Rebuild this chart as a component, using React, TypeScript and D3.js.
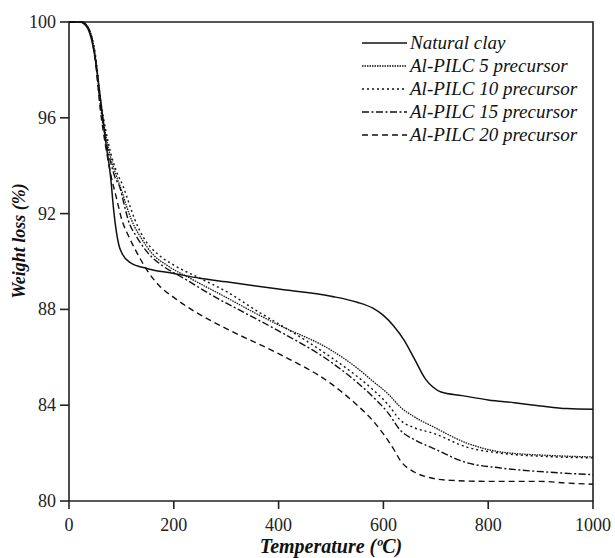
import React from "react";
import * as d3 from "d3";

const xTicks = [0, 200, 400, 600, 800, 1000];
const yTicks = [80, 84, 88, 92, 96, 100];

const seriesNames = [
  "Natural clay",
  "Al-PILC 5 precursor",
  "Al-PILC 10 precursor",
  "Al-PILC 15 precursor",
  "Al-PILC 20 precursor",
];

const naturalClayT = [0, 20, 30, 40, 50, 60, 70, 80, 85, 90, 95, 101, 117, 150, 200, 250, 300, 400, 500, 550, 580, 600, 620, 640, 660, 680, 695, 710, 750, 800, 850, 900, 950, 1000];
const naturalClayW = [100, 100, 99.9, 99.5, 98.5, 96.8, 95.0, 93.4, 92.2, 91.3, 90.7, 90.35, 89.95, 89.7, 89.5, 89.3, 89.15, 88.85, 88.55, 88.3, 88.05, 87.75, 87.3, 86.7, 85.9, 85.1, 84.75, 84.55, 84.4, 84.22, 84.1, 83.97, 83.86, 83.83];

const pilc5T = [0, 25, 40, 50, 60, 70, 80, 90, 100, 110, 120, 140, 158, 190, 231, 300, 355, 400, 500, 550, 580, 610, 632, 660, 695, 759, 823, 918, 1000];
const pilc5W = [100, 100, 99.6, 98.6, 96.7, 95.3, 94.3, 93.6, 93.0, 92.3, 91.7, 90.9, 90.35, 89.8, 89.3, 88.5, 87.85, 87.35, 86.3, 85.55, 85.0, 84.45, 83.93, 83.5, 83.1, 82.42, 82.05, 81.9, 81.84];

const pilc10T = [0, 25, 40, 50, 60, 70, 80, 90, 104, 115, 126, 145, 167, 200, 250, 300, 365, 400, 500, 550, 580, 610, 632, 660, 695, 759, 823, 918, 1000];
const pilc10W = [100, 100, 99.6, 98.7, 96.8, 95.5, 94.5, 93.8, 93.1, 92.4, 91.73, 90.9, 90.35, 89.85, 89.3, 88.75, 87.85, 87.4, 86.0, 85.2, 84.65, 84.0, 83.38, 83.05, 82.83, 82.25, 82.0, 81.85, 81.8];

const pilc15T = [0, 25, 40, 50, 60, 70, 80, 88, 97, 105, 113, 130, 151, 180, 219, 280, 336, 400, 500, 550, 580, 610, 632, 660, 695, 759, 823, 918, 1000];
const pilc15W = [100, 100, 99.6, 98.5, 96.5, 95.1, 94.1, 93.5, 93.1, 92.4, 91.73, 91.0, 90.35, 89.8, 89.3, 88.5, 87.85, 87.1, 85.8, 84.95, 84.35, 83.65, 82.96, 82.55, 82.2, 81.6, 81.38, 81.2, 81.1];

const pilc20T = [0, 25, 40, 50, 60, 70, 80, 90, 101, 115, 130, 150, 174, 200, 237, 300, 400, 500, 550, 580, 600, 620, 632, 660, 690, 730, 800, 900, 950, 1000];
const pilc20W = [100, 100, 99.6, 98.4, 96.3, 94.8, 93.6, 92.7, 91.73, 91.0, 90.35, 89.6, 88.95, 88.5, 87.95, 87.2, 86.15, 84.9, 84.0, 83.35, 82.8, 82.15, 81.7, 81.2, 80.97, 80.86, 80.82, 80.82, 80.75, 80.7];

const dashes = ["none", "1.5,1", "2,3", "7,2.5,2,2.5", "6,4"];
const widths = [1.5, 1.3, 1.4, 1.4, 1.4];

export default function App() {
  const W = 615, H = 558;
  const x = d3.scaleLinear().domain([0, 1000]).range([69, 593]);
  const y = d3.scaleLinear().domain([80, 100]).range([501, 22]);
  const line = d3
    .line<[number, number]>()
    .x((d) => x(d[0]))
    .y((d) => y(d[1]))
    .curve(d3.curveMonotoneX);

  const series: [number[], number[]][] = [
    [naturalClayT, naturalClayW],
    [pilc5T, pilc5W],
    [pilc10T, pilc10W],
    [pilc15T, pilc15W],
    [pilc20T, pilc20W],
  ];

  const font = "'Liberation Serif', 'Times New Roman', serif";

  return (
    <svg
      width={W}
      height={H}
      style={{ position: "absolute", left: 0, top: 0, background: "#fff" }}
      fontFamily={font}
    >
      <rect x={0} y={0} width={W} height={H} fill="#fff" />
      <path
        d={`M${x(0)},${y(100)} H${x(1000)} V${y(80)} H${x(0)} Z`}
        fill="none"
        stroke="#222"
        strokeWidth={1.6}
      />
      {xTicks.map((t) => (
        <g key={"x" + t}>
          <line x1={x(t)} x2={x(t)} y1={y(80)} y2={y(80) + 8} stroke="#222" strokeWidth={1.6} />
          <text x={x(t)} y={531} textAnchor="middle" fontSize={18} fill="#222">
            {t}
          </text>
        </g>
      ))}
      {yTicks.map((t) => (
        <g key={"y" + t}>
          <line x1={x(0) - 9} x2={x(0)} y1={y(t)} y2={y(t)} stroke="#222" strokeWidth={1.6} />
          <text x={56} y={y(t) + 6} textAnchor="end" fontSize={18} fill="#222">
            {t}
          </text>
        </g>
      ))}
      <text
        x={331}
        y={553}
        textAnchor="middle"
        fontSize={20}
        fontWeight="bold"
        fontStyle="italic"
        fill="#111"
      >
        Temperature (ºC)
      </text>
      <text
        transform={`translate(25,${241}) rotate(-90)`}
        textAnchor="middle"
        fontSize={18}
        fontWeight="bold"
        fontStyle="italic"
        fill="#111"
      >
        Weight loss (%)
      </text>
      {series.map(([ts, ws], i) => (
        <path
          key={"s" + i}
          d={line(ts.map((t, j) => [t, ws[j]] as [number, number])) || ""}
          fill="none"
          stroke="#111"
          strokeWidth={widths[i]}
          strokeDasharray={dashes[i]}
        />
      ))}
      {seriesNames.map((name, i) => (
        <g key={"l" + i}>
          <line
            x1={362}
            x2={407}
            y1={43 + i * 23}
            y2={43 + i * 23}
            stroke="#111"
            strokeWidth={widths[i]}
            strokeDasharray={dashes[i]}
          />
          <text x={410} y={43 + i * 23 + 6} fontSize={19} fontStyle="italic" fill="#111">
            {name}
          </text>
        </g>
      ))}
    </svg>
  );
}
